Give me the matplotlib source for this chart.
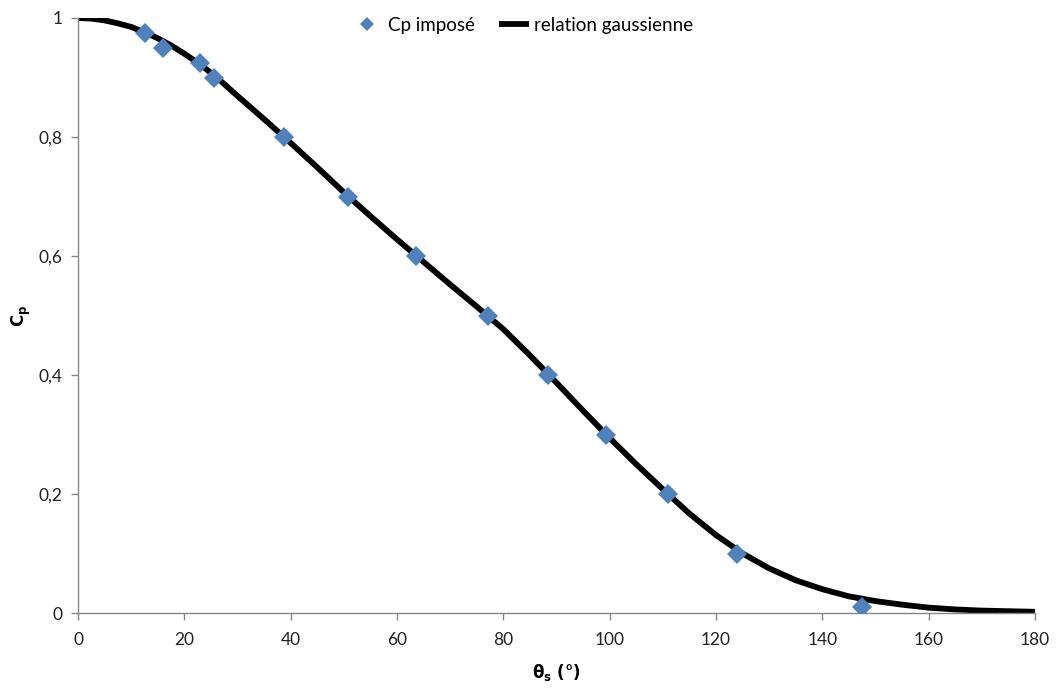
import matplotlib
matplotlib.use("Agg")
import matplotlib.pyplot as plt
from matplotlib.ticker import FuncFormatter

# Imposed Cp points
theta_pts = [12.6, 16.0, 22.9, 25.6, 38.7, 50.8, 63.6, 77.1, 88.4, 99.3, 111.0, 123.9, 147.5]
cp_pts = [0.975, 0.95, 0.925, 0.9, 0.8, 0.7, 0.6, 0.5, 0.4, 0.3, 0.2, 0.1, 0.01]

# Gaussian relation curve
theta_curve = [0, 2.5, 5, 7.5, 10, 12.5, 15, 17.5, 20, 22.5, 25, 27.5, 30, 35, 40, 45, 50, 55, 60,
               65, 70, 75, 80, 85, 90, 95, 100, 105, 110, 115, 120, 125, 130, 135, 140,
               145, 150, 155, 160, 165, 170, 175, 180]
cp_curve = [1.0, 0.999, 0.996, 0.991, 0.985, 0.976, 0.966, 0.954, 0.940, 0.925, 0.908, 0.889,
            0.869, 0.830, 0.790, 0.749, 0.707, 0.667, 0.628, 0.590, 0.552, 0.515, 0.477,
            0.433, 0.387, 0.340, 0.294, 0.250, 0.208, 0.167, 0.131, 0.100, 0.075, 0.055,
            0.040, 0.028, 0.020, 0.014, 0.009, 0.006, 0.004, 0.003, 0.002]

xticks = [0, 20, 40, 60, 80, 100, 120, 140, 160, 180]
yticks = [0, 0.2, 0.4, 0.6, 0.8, 1.0]

plt.rcParams['font.family'] = ['Lato', 'DejaVu Sans']
plt.rcParams['mathtext.fontset'] = 'dejavusans'

fig = plt.figure(figsize=(10.57, 6.88), dpi=100)
ax = fig.add_axes([78/1057, 75/688, (1035-78)/1057, (613-18)/688])

ax.plot(theta_curve, cp_curve, color='black', lw=4.2, label='relation gaussienne', zorder=2,
        solid_capstyle='butt')
ax.plot(theta_pts, cp_pts, linestyle='none', marker='D', ms=10, color='#4F81BD',
        markeredgewidth=0, label='Cp imposé', zorder=3)

ax.set_xlim(0, 180)
ax.set_ylim(0, 1)
ax.set_xticks(xticks)
ax.set_yticks(yticks)

def fmt(v, pos):
    s = ('%g' % round(v, 2))
    return s.replace('.', ',')

ax.yaxis.set_major_formatter(FuncFormatter(fmt))
ax.xaxis.set_major_formatter(FuncFormatter(fmt))

for side in ['top', 'right']:
    ax.spines[side].set_visible(False)
for side in ['left', 'bottom']:
    ax.spines[side].set_color('#868686')
    ax.spines[side].set_linewidth(1.0)
ax.tick_params(axis='both', which='major', direction='out', length=5, width=1,
               color='#868686', labelsize=12.5, labelcolor='#222222', pad=6)
ax.tick_params(axis='x', pad=9)

ax.set_xlabel(r'$\mathbf{\theta_s}$ (°)', fontsize=12, fontweight='bold',
              family=['DejaVu Sans'], labelpad=10)
ax.set_ylabel(r'$\mathbf{C_p}$', fontsize=12, fontweight='bold',
              family=['DejaVu Sans'], labelpad=4)

handles, labels = ax.get_legend_handles_labels()
leg = ax.legend(handles[::-1], labels[::-1], loc='upper center', bbox_to_anchor=(0.465, 1.03),
                ncol=2, frameon=False, fontsize=13.5, handlelength=1.6, handletextpad=0.27,
                columnspacing=1.33, markerscale=0.7)

fig.savefig('out.png', dpi=100)
